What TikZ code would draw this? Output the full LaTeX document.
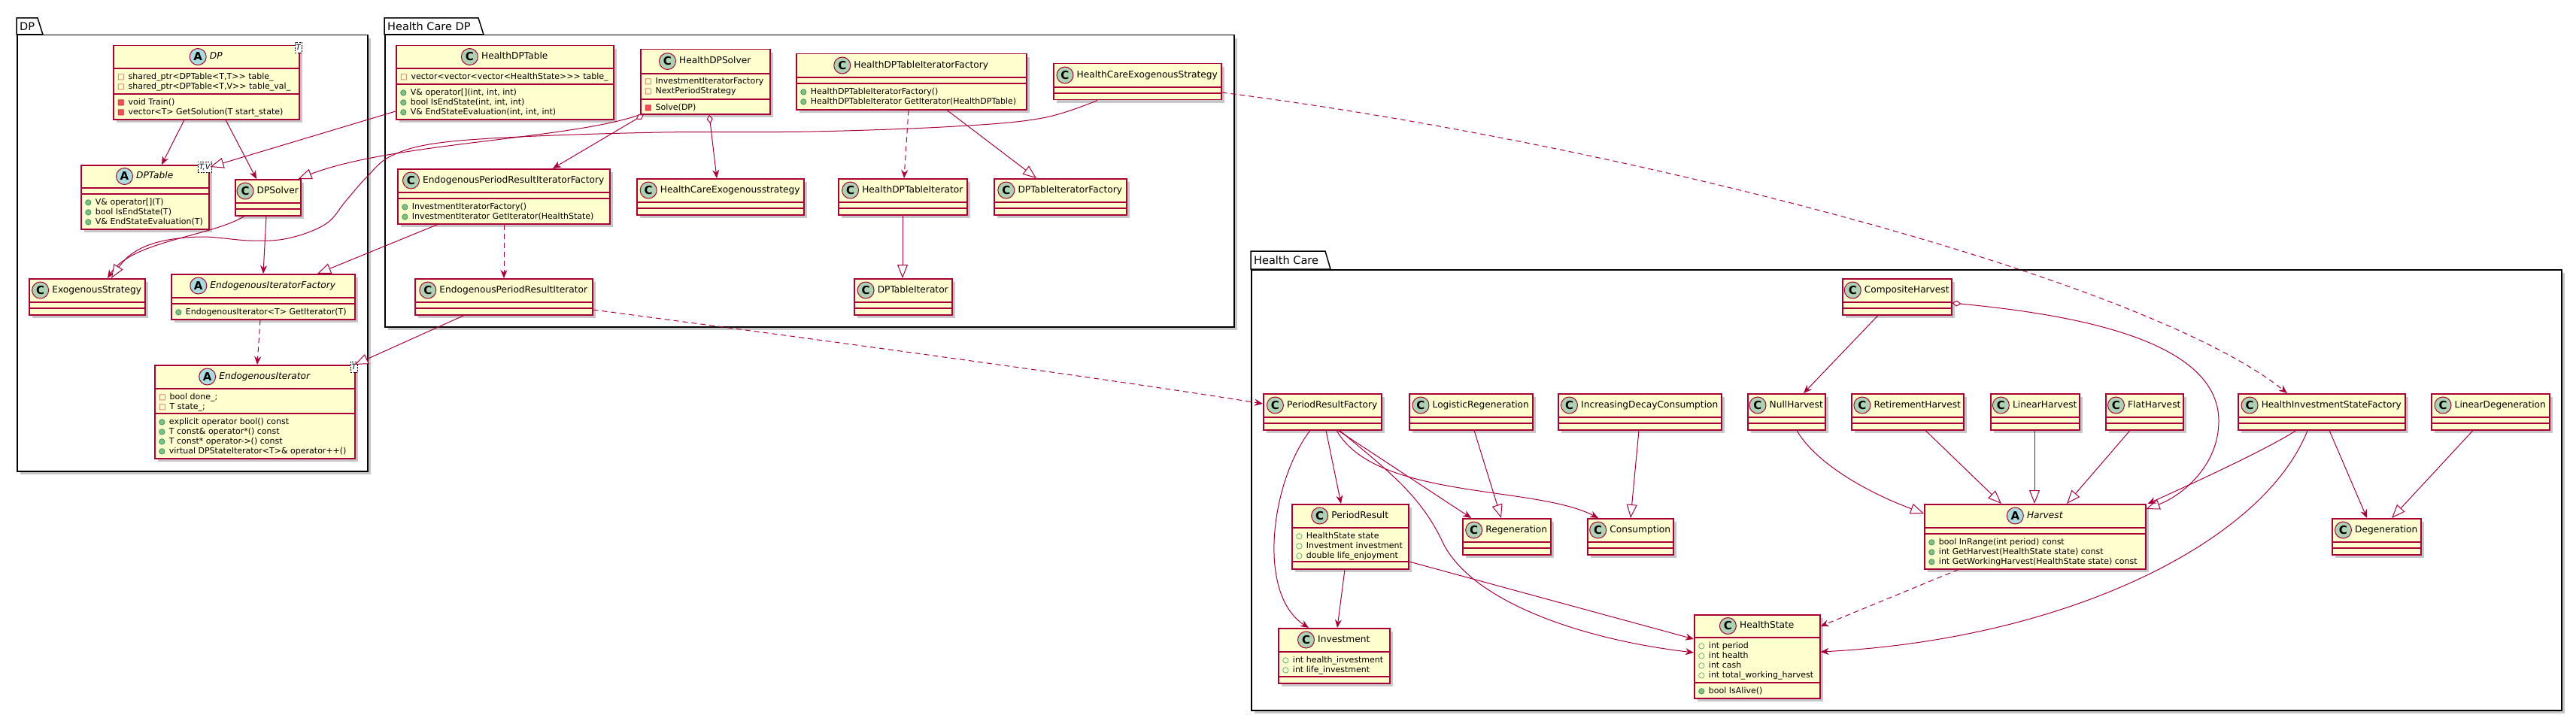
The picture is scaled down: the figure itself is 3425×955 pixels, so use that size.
\documentclass[tikz,border=0pt]{standalone}
\usepackage{fontspec}
\setmainfont{DejaVu Sans}
\usetikzlibrary{arrows.meta,positioning,shadows}

\definecolor{classfill}{HTML}{FEFECE}
\definecolor{classline}{HTML}{A80036}
\definecolor{iconCfill}{HTML}{ADD1B2}
\definecolor{iconAfill}{HTML}{A9DCDF}
\definecolor{privline}{HTML}{C82930}
\definecolor{privfill}{HTML}{F24D5C}
\definecolor{publine}{HTML}{038048}
\definecolor{pubfill}{HTML}{84BE84}

\newcommand{\privf}{{\fontsize{10}{10}\selectfont\color{privline}□}\hspace{5pt}}
\newcommand{\privm}{{\fontsize{10}{10}\selectfont\rlap{\color{privfill}■}\color{privline}□}\hspace{5pt}}
\newcommand{\pubm}{{\fontsize{10}{10}\selectfont\rlap{\color{pubfill}●}\color{publine}○}\hspace{5pt}}
\newcommand{\pubf}{{\fontsize{10}{10}\selectfont\color{publine}○}\hspace{5pt}}

% id, kind (C/A), name, x, y, width, height, header height, second divider
\newcommand{\umlclass}[9]{%
  \node[classbox, minimum width=#6pt, minimum height=#7pt] (#1) at (#4,#5) {};
  \draw[divider] ([yshift=-#8pt]#1.north west) -- ([yshift=-#8pt]#1.north east);
  \draw[divider] ([yshift=-#9pt]#1.north west) -- ([yshift=-#9pt]#1.north east);
  \node[name#2] (#1-name) at ([xshift=13pt, yshift=-#8pt/2]#1.north) {#3};
  \node[icon#2, left=4pt of #1-name] (#1-icon) {#2};
}
\newcommand{\emptyclass}[5]{\umlclass{#1}{C}{#2}{#3}{#4}{#5}{48}{32}{40}}
\newcommand{\classmembers}[3]{%
  \node[memberlist] (#1-m#2) at ([xshift=6pt, yshift=-#2pt-5.5pt]#1.north west) {#3};
}

\begin{document}
\begin{tikzpicture}[x=1pt, y=-1pt,
  classbox/.style={draw=classline, fill=classfill, line width=1.5pt, inner sep=0, anchor=north west,
    drop shadow={shadow xshift=4pt, shadow yshift=-4pt, fill=black, opacity=.22}},
  divider/.style={draw=classline, line width=1.5pt},
  nameC/.style={inner sep=0, text height=9pt, text depth=2.5pt, font=\fontsize{12.2}{14}\selectfont},
  nameA/.style={nameC, font=\fontsize{12.2}{14}\selectfont\itshape},
  iconC/.style={circle, draw=classline, line width=1pt, fill=iconCfill, minimum size=22pt, inner sep=0,
    font=\fontsize{15}{15}\selectfont\bfseries},
  iconA/.style={iconC, fill=iconAfill},
  memberlist/.style={inner sep=0, align=left, anchor=north west, font=\fontsize{11}{13}\selectfont},
  tmpl/.style={draw=black, line width=.6pt, dash pattern=on 2pt off 1.5pt, fill=white, inner xsep=1.5pt,
    inner ysep=0pt, minimum height=14pt, font=\fontsize{10}{10}\selectfont\itshape},
  pkgbox/.style={draw=black, line width=1.5pt, fill=white, inner sep=0, anchor=north west,
    drop shadow={shadow xshift=4pt, shadow yshift=-4pt, fill=black, opacity=.22}},
  pkgtab/.style={draw=black, line width=1.5pt, fill=white},
  pkglabel/.style={inner sep=0, anchor=west, font=\fontsize{14.5}{16}\selectfont},
  assoc/.style={draw=classline, line width=1pt, -{Stealth[length=11pt, width=9pt, inset=3.5pt]}},
  depend/.style={assoc, dash pattern=on 7pt off 5pt},
  inherit/.style={draw=classline, line width=1pt, -{Triangle[length=18pt, width=14pt, fill=white]}},
  aggr/.style={draw=classline, line width=1pt,
    {Diamond[length=12pt, width=8pt, fill=white]}-{Stealth[length=11pt, width=9pt, inset=3.5pt]}},
  aggrinh/.style={draw=classline, line width=1pt,
    {Diamond[length=12pt, width=8pt, fill=white]}-{Triangle[length=18pt, width=14pt, fill=white]}}]

\useasboundingbox (0,0) rectangle (3425,955);

% packages
\node[pkgbox, minimum width=466pt, minimum height=580pt] (pkgDP) at (22,46) {};
\draw[pkgtab] (pkgDP.north west) -- ++(0,-22) -- ++(28,0) -- ++(7,22) -- cycle;
\node[pkglabel] (pkgDP-label) at ([xshift=4pt, yshift=11pt]pkgDP.north west) {DP};

\node[pkgbox, minimum width=1129pt, minimum height=388pt] (pkgHCDP) at (511,46) {};
\draw[pkgtab] (pkgHCDP.north west) -- ++(0,-22) -- ++(125,0) -- ++(7,22) -- cycle;
\node[pkglabel] (pkgHCDP-label) at ([xshift=4pt, yshift=11pt]pkgHCDP.north west) {Health Care DP};

\node[pkgbox, minimum width=1742pt, minimum height=586pt] (pkgHC) at (1663,358) {};
\draw[pkgtab] (pkgHC.north west) -- ++(0,-24) -- ++(99,0) -- ++(7,24) -- cycle;
\node[pkglabel] (pkgHC-label) at ([xshift=4pt, yshift=12pt]pkgHC.north west) {Health Care};

% DP
\umlclass{DP}{A}{DP}{150}{60}{247}{98}{31}{65}
\classmembers{DP}{31}{\privf shared\_ptr<DPTable<T,T>{}> table\_\\\privf shared\_ptr<DPTable<T,V>{}> table\_val\_}
\classmembers{DP}{65}{\privm void Train()\\\privm vector<T> GetSolution(T start\_state)}
\node[tmpl, anchor=north east] (DP-tp) at ([xshift=3pt, yshift=4pt]DP.north east) {T};

\umlclass{DPTable}{A}{DPTable}{107}{219}{170}{85}{31}{39}
\classmembers{DPTable}{39}{\pubm V\& operator[](T)\\\pubm bool IsEndState(T)\\\pubm V\& EndStateEvaluation(T)}
\node[tmpl, anchor=north east] (DPTable-tp) at ([xshift=3pt, yshift=4pt]DPTable.north east) {T,V};

\emptyclass{DPSolver}{DPSolver}{312}{238}{87}
\emptyclass{ExoStrategy}{ExogenousStrategy}{38}{370}{154}

\umlclass{EndoIterFactory}{A}{EndogenousIteratorFactory}{227}{364}{244}{60}{32}{40}
\classmembers{EndoIterFactory}{40}{\pubm EndogenousIterator<T> GetIterator(T)}

\umlclass{EndoIter}{A}{EndogenousIterator}{205}{485}{266}{124}{32}{65}
\classmembers{EndoIter}{32}{\privf bool done\_;\\\privf T state\_;}
\classmembers{EndoIter}{65}{\pubm explicit operator bool() const\\\pubm T const\& operator*() const\\\pubm T const* operator->() const\\\pubm virtual DPStateIterator<T>\& operator++()}
\node[tmpl, anchor=north east] (EndoIter-tp) at ([xshift=3pt, yshift=4pt]EndoIter.north east) {T};

% Health Care DP
\umlclass{HealthDPTable}{C}{HealthDPTable}{526}{60}{289}{98}{31}{52}
\classmembers{HealthDPTable}{31}{\privf vector<vector<vector<HealthState>{}>{}> table\_}
\classmembers{HealthDPTable}{52}{\pubm V\& operator[](int, int, int)\\\pubm bool IsEndState(int, int, int)\\\pubm V\& EndStateEvaluation(int, int, int)}

\umlclass{HealthDPSolver}{C}{HealthDPSolver}{851}{65}{172}{86}{33}{67}
\classmembers{HealthDPSolver}{33}{\privf InvestmentIteratorFactory\\\privf NextPeriodStrategy}
\classmembers{HealthDPSolver}{67}{\privm Solve(DP)}

\umlclass{EPRIFactory}{C}{EndogenousPeriodResultIteratorFactory}{528}{224}{282}{73}{32}{40}
\classmembers{EPRIFactory}{40}{\pubm InvestmentIteratorFactory()\\\pubm InvestmentIterator GetIterator(HealthState)}

\emptyclass{HCExoLower}{HealthCareExogenousstrategy}{846}{237}{222}
\emptyclass{EPRIter}{EndogenousPeriodResultIterator}{551}{370}{236}

\umlclass{HDPTIFactory}{C}{HealthDPTableIteratorFactory}{1058}{71}{306}{74}{32}{40}
\classmembers{HDPTIFactory}{40}{\pubm HealthDPTableIteratorFactory()\\\pubm HealthDPTableIterator GetIterator(HealthDPTable)}

\emptyclass{HCExoStrategy}{HealthCareExogenousStrategy}{1400}{84}{223}
\emptyclass{HDPTIter}{HealthDPTableIterator}{1114}{237}{171}
\emptyclass{DPTIFactory}{DPTableIteratorFactory}{1321}{237}{176}
\emptyclass{DPTIter}{DPTableIterator}{1135}{370}{130}

% Health Care
\emptyclass{CompositeHarvest}{CompositeHarvest}{2449}{370}{145}
\emptyclass{PRFactory}{PeriodResultFactory}{1679}{523}{157}
\emptyclass{LogisticRegen}{LogisticRegeneration}{1873}{523}{164}
\emptyclass{IncDecayCons}{IncreasingDecayConsumption}{2071}{523}{217}
\emptyclass{NullHarvest}{NullHarvest}{2323}{523}{103}
\emptyclass{RetireHarvest}{RetirementHarvest}{2461}{523}{149}
\emptyclass{LinearHarvest}{LinearHarvest}{2646}{523}{118}
\emptyclass{FlatHarvest}{FlatHarvest}{2799}{523}{103}
\emptyclass{HISFactory}{HealthInvestmentStateFactory}{2975}{523}{222}
\emptyclass{LinearDegen}{LinearDegeneration}{3232}{523}{157}

\umlclass{PeriodResult}{C}{PeriodResult}{1717}{670}{155}{86}{32}{77}
\classmembers{PeriodResult}{32}{\pubf HealthState state\\\pubf Investment investment\\\pubf double life\_enjoyment}

\emptyclass{Regeneration}{Regeneration}{1944}{689}{117}
\emptyclass{Consumption}{Consumption}{2110}{689}{114}

\umlclass{Harvest}{A}{Harvest}{2558}{670}{294}{86}{32}{40}
\classmembers{Harvest}{40}{\pubm bool InRange(int period) const\\\pubm int GetHarvest(HealthState state) const\\\pubm int GetWorkingHarvest(HealthState state) const}

\emptyclass{Degeneration}{Degeneration}{3100}{689}{118}

\umlclass{Investment}{C}{Investment}{1699}{835}{148}{73}{32}{65}
\classmembers{Investment}{32}{\pubf int health\_investment\\\pubf int life\_investment}

\umlclass{HealthState}{C}{HealthState}{2252}{817}{167}{111}{31}{91}
\classmembers{HealthState}{31}{\pubf int period\\\pubf int health\\\pubf int cash\\\pubf int total\_working\_harvest}
\classmembers{HealthState}{91}{\pubm bool IsAlive()}

% connectors in DP
\draw[assoc] ([xshift=95pt]DP.south west) -- ([xshift=108pt]DPTable.north west);
\draw[assoc] ([xshift=150pt]DP.south west) -- ([xshift=29pt]DPSolver.north west);
\draw[assoc] ([xshift=13pt]DPSolver.south west) .. controls (280,315) and (175,320) .. ([xshift=105pt]ExoStrategy.north west);
\draw[assoc] ([xshift=42pt]DPSolver.south west) -- ([xshift=123pt]EndoIterFactory.north west);
\draw[depend] ([xshift=119pt]EndoIterFactory.south west) -- ([xshift=137pt]EndoIter.north west);

% between DP and Health Care DP
\draw[inherit] ([yshift=-88pt]HealthDPTable.north west) -- ([xshift=1pt, yshift=-3pt]DPTable.north east);
\draw[inherit] (HealthDPSolver.south west) .. controls (760,185) and (520,190) .. ([xshift=-4pt]DPSolver.north east);
\draw[inherit] ([xshift=54pt]EPRIFactory.south west) -- ([xshift=195pt]EndoIterFactory.north west);
\draw[inherit] ([xshift=66pt]EPRIter.south west) -- ([xshift=-1pt]EndoIter.north east);
\draw[inherit] plot[smooth, tension=.6] coordinates {([xshift=59pt]HCExoStrategy.south west) (1386,157) (1271,168)
  (1080,175) (880,176) (691,182) (577,191) (519,208) (488,235) (460,267) (433,298) (383,317) (333,320)
  (267,315) (210,322) (172,340) ([xshift=110pt]ExoStrategy.north west)};

% Health Care DP
\draw[aggr] ([xshift=5pt]HealthDPSolver.south west) -- ([xshift=207pt]EPRIFactory.north west);
\draw[aggr] ([xshift=92pt]HealthDPSolver.south west) -- ([xshift=107pt]HCExoLower.north west);
\draw[depend] ([xshift=142pt]EPRIFactory.south west) -- ([xshift=119pt]EPRIter.north west);
\draw[depend] ([xshift=150pt]HDPTIFactory.south west) -- ([xshift=88pt]HDPTIter.north west);
\draw[inherit] ([xshift=201pt]HDPTIFactory.south west) -- ([xshift=57pt]DPTIFactory.north west);
\draw[inherit] ([xshift=86pt]HDPTIter.south west) -- ([xshift=65pt]DPTIter.north west);

% into Health Care
\draw[depend] ([yshift=-39pt]HCExoStrategy.north east) .. controls (2150,190) and (2850,370) .. ([xshift=66pt]HISFactory.north west);
\draw[depend] ([yshift=-42pt]EPRIter.north east) .. controls (1000,440) and (1450,500) .. ([yshift=-14pt]PRFactory.north west);

% Health Care
\draw[assoc] ([xshift=48pt]CompositeHarvest.south west) -- ([xshift=75pt]NullHarvest.north west);
\draw[aggrinh] ([yshift=-33pt]CompositeHarvest.north east) .. controls (2750,418) and (2950,450) .. (2950,560)
  .. controls (2950,620) and (2900,660) .. ([yshift=-7pt]Harvest.north east);
\draw[inherit] ([xshift=66pt]NullHarvest.south west) .. controls (2410,610) and (2470,650) .. ([yshift=-13pt]Harvest.north west);
\draw[inherit] ([xshift=99pt]RetireHarvest.south west) -- ([xshift=103pt]Harvest.north west);
\draw[inherit] ([xshift=59pt]LinearHarvest.south west) -- ([xshift=147pt]Harvest.north west);
\draw[inherit] ([xshift=33pt]FlatHarvest.south west) -- ([xshift=190pt]Harvest.north west);
\draw[assoc] ([xshift=78pt]HISFactory.south west) .. controls (3010,600) and (2900,650) .. ([xshift=2pt]Harvest.north east);
\draw[assoc] ([xshift=93pt]HISFactory.south west) .. controls (3010,720) and (2750,850) .. ([yshift=-50pt]HealthState.north east);
\draw[assoc] ([xshift=122pt]HISFactory.south west) -- ([xshift=47pt]Degeneration.north west);
\draw[inherit] ([xshift=56pt]LinearDegen.south west) -- ([xshift=80pt]Degeneration.north west);
\draw[depend] ([xshift=46pt]Harvest.south west) -- ([yshift=-16pt]HealthState.north east);
\draw[inherit] ([xshift=87pt]LogisticRegen.south west) -- ([xshift=52pt]Regeneration.north west);
\draw[inherit] ([xshift=108pt]IncDecayCons.south west) -- ([xshift=58pt]Consumption.north west);
\draw[assoc] ([xshift=84pt]PRFactory.south west) -- ([xshift=66pt]PeriodResult.north west);
\draw[assoc] ([xshift=63pt]PRFactory.south west) .. controls (1690,640) and (1670,790) .. ([xshift=41pt]Investment.north west);
\draw[assoc] ([xshift=100pt]PRFactory.south west) -- ([xshift=12pt]Regeneration.north west);
\draw[assoc] ([xshift=98pt]PRFactory.south west) .. controls (1830,665) and (2040,645) .. ([xshift=15pt]Consumption.north west);
\draw[assoc] ([xshift=102pt]PRFactory.south west) .. controls (1850,630) and (1890,660) .. (1920,725)
  .. controls (1960,800) and (2100,850) .. ([yshift=-51pt]HealthState.north west);
\draw[assoc] ([xshift=71pt]PeriodResult.south west) -- ([xshift=79pt]Investment.north west);
\draw[assoc] ([yshift=-77pt]PeriodResult.north east) -- ([yshift=-33pt]HealthState.north west);
\end{tikzpicture}
\end{document}
